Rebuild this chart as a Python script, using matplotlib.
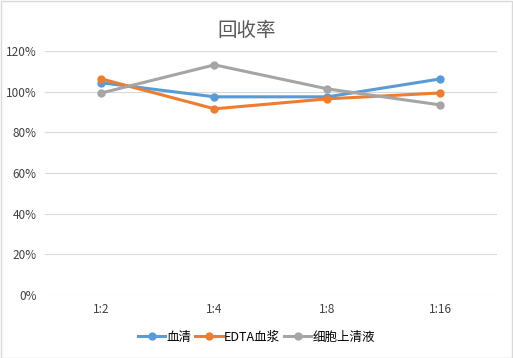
import matplotlib.pyplot as plt
from matplotlib.ticker import FuncFormatter

plt.rcParams['font.family'] = ['Noto Sans CJK SC', 'DejaVu Sans']

categories = ['1:2', '1:4', '1:8', '1:16']
serum = [104.3, 97.4, 97.4, 106.2]
edta_plasma = [106.2, 91.5, 96.4, 99.3]
supernatant = [99.3, 113.1, 101.3, 93.4]
series_names = ['血清', 'EDTA血浆', '细胞上清液']
colors = ['#5B9BD5', '#ED7D31', '#A5A5A5']

fig = plt.figure(figsize=(5.13, 3.58), dpi=100)
ax = fig.add_axes([0.0877, 0.176, 0.881, 0.682])

x = range(len(categories))
for vals, name, c in zip([serum, edta_plasma, supernatant], series_names, colors):
    ax.plot(x, vals, color=c, lw=2.2, marker='o', ms=5, label=name)

ax.set_xlim(-0.5, len(categories) - 0.5)
ax.set_ylim(0, 120)
ax.set_yticks(range(0, 121, 20))
ax.yaxis.set_major_formatter(FuncFormatter(lambda v, p: f'{int(v)}%'))
ax.set_xticks(list(x))
ax.set_xticklabels(categories)
ax.grid(axis='y', color='#D9D9D9', lw=0.8)
ax.set_axisbelow(True)
for s in ax.spines.values():
    s.set_visible(False)
ax.tick_params(length=0, labelsize=8.5, colors='#404040', pad=6)

fig.text(0.48, 0.915, '回收率', ha='center', va='center', fontsize=14, color='#595959')
fig.legend(loc='center', bbox_to_anchor=(0.5, 0.058), ncol=3, frameon=False,
           fontsize=9, handlelength=2.2, handletextpad=0.1, columnspacing=0.3)

fig.patches.append(plt.Rectangle((0.001, 0.001), 0.997, 0.997, transform=fig.transFigure,
                                 fill=False, edgecolor='#D9D9D9', lw=1))
fig.savefig('out.png', dpi=100)
